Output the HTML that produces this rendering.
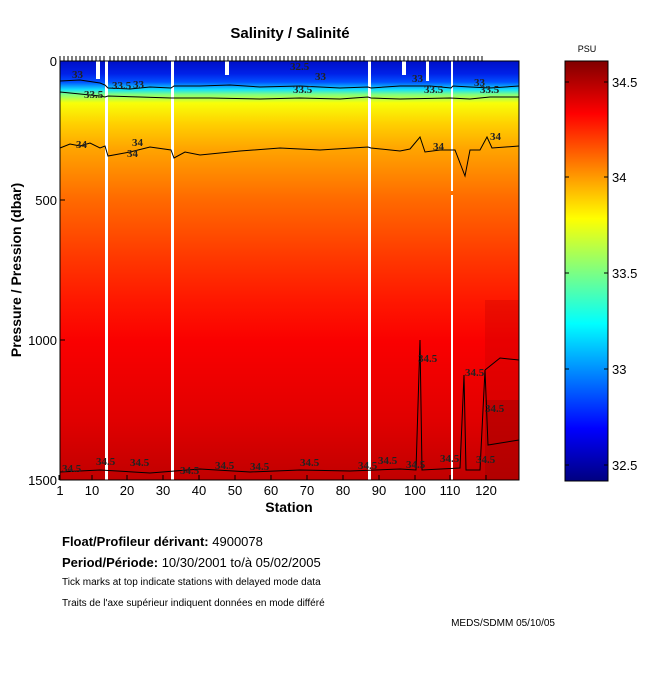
<!DOCTYPE html>
<html><head><meta charset="utf-8"><style>
body{margin:0;background:#fff;}
svg{display:block;font-family:"Liberation Sans",sans-serif;}
</style></head><body>
<svg width="650" height="680" viewBox="0 0 650 680">
<defs>
<linearGradient id="g" x1="0" y1="61" x2="0" y2="480" gradientUnits="userSpaceOnUse">
<stop offset="0" stop-color="#0010c8"/>
<stop offset="0.03" stop-color="#0020e8"/>
<stop offset="0.05" stop-color="#0050ff"/>
<stop offset="0.068" stop-color="#10e0ff"/>
<stop offset="0.08" stop-color="#80ff80"/>
<stop offset="0.10" stop-color="#f8ff08"/>
<stop offset="0.15" stop-color="#ffd000"/>
<stop offset="0.21" stop-color="#ffa400"/>
<stop offset="0.33" stop-color="#ff6a00"/>
<stop offset="0.47" stop-color="#ff3800"/>
<stop offset="0.57" stop-color="#ff1800"/>
<stop offset="0.67" stop-color="#fa0000"/>
<stop offset="0.86" stop-color="#e00000"/>
<stop offset="1" stop-color="#c00000"/>
</linearGradient>
<linearGradient id="cb" x1="0" y1="61" x2="0" y2="481" gradientUnits="userSpaceOnUse">
<stop offset="0" stop-color="#800000"/>
<stop offset="0.125" stop-color="#ff0000"/>
<stop offset="0.375" stop-color="#ffff00"/>
<stop offset="0.625" stop-color="#00ffff"/>
<stop offset="0.875" stop-color="#0000ff"/>
<stop offset="1" stop-color="#000080"/>
</linearGradient>
</defs>
<text x="290" y="38" font-size="15" font-weight="bold" text-anchor="middle">Salinity / Salinité</text>
<rect x="60" y="61" width="459" height="419" fill="url(#g)"/>
<rect x="485" y="400" width="34" height="80" fill="#a80000" opacity="0.6"/>
<rect x="485" y="300" width="34" height="100" fill="#c00000" opacity="0.3"/>
<!-- gaps -->
<rect x="105" y="61" width="3" height="419" fill="#fff"/>
<rect x="171" y="61" width="3" height="419" fill="#fff"/>
<rect x="368" y="61" width="3" height="419" fill="#fff"/>
<rect x="451" y="61" width="2" height="130" fill="#fff"/>
<rect x="451" y="195" width="2" height="285" fill="#fff"/>
<rect x="96" y="61" width="4" height="18" fill="#fff"/>
<rect x="225" y="61" width="4" height="14" fill="#fff"/>
<rect x="402" y="61" width="4" height="14" fill="#fff"/>
<rect x="426" y="61" width="3" height="20" fill="#fff"/>
<!-- contours -->
<g fill="none" stroke="#000" stroke-width="1">
<polyline points="60,81 80,80 100,83 105,85 108,88 130,89 150,87 171,88 174,86 200,86 230,85 260,87 300,86 340,88 368,87 371,88 400,86 430,86 451,88 453,86 470,87 490,88 519,86"/>
<polyline points="60,92 80,94 100,96 105,97 108,96 140,97 171,98 174,98 210,98 260,99 300,98 340,99 368,97 371,98 400,99 450,98 470,99 490,97 519,97"/>
<polyline points="60,148 70,144 80,146 90,143 100,148 105,146 108,156 130,152 150,147 171,150 174,158 185,152 200,155 240,151 280,148 320,150 368,147 371,148 400,151 410,149 420,137 425,152 440,150 455,150 465,176 470,150 480,150 487,137 492,148 519,146"/>
<polyline points="60,472 100,470 150,473 200,469 250,472 300,470 350,471 400,469 416,470 420,340 422,470 460,468 464,375 466,470 480,470 485,370 488,445 519,440"/>
<polyline points="485,370 500,358 519,360"/>
</g>
<g font-family="Liberation Serif,serif" font-weight="bold" font-size="11" fill="#222">
<text x="72" y="78">33</text><text x="84" y="98">33.5</text><text x="112" y="89">33.5</text><text x="133" y="88">33</text>
<text x="290" y="70">32.5</text><text x="293" y="93">33.5</text><text x="315" y="80">33</text>
<text x="412" y="82">33</text><text x="424" y="93">33.5</text><text x="474" y="86">33</text><text x="480" y="93">33.5</text>
<text x="76" y="148">34</text><text x="132" y="146">34</text><text x="127" y="157">34</text><text x="433" y="150">34</text><text x="490" y="140">34</text>
<text x="418" y="362">34.5</text><text x="465" y="376">34.5</text><text x="485" y="412">34.5</text>
<text x="62" y="472">34.5</text><text x="96" y="465">34.5</text><text x="130" y="466">34.5</text><text x="180" y="474">34.5</text><text x="215" y="469">34.5</text><text x="250" y="470">34.5</text><text x="300" y="466">34.5</text><text x="358" y="469">34.5</text><text x="378" y="464">34.5</text><text x="406" y="468">34.5</text><text x="440" y="462">34.5</text><text x="476" y="463">34.5</text>
</g>
<!-- axes -->
<rect x="60" y="61" width="459" height="419" fill="none" stroke="#000"/>
<g stroke="#000">
<path d="M60,56 V61 M64,56 V61 M68,56 V61 M72,56 V61 M76,56 V61 M80,56 V61 M84,56 V61 M88,56 V61 M92,56 V61 M96,56 V61 M100,56 V61 M104,56 V61 M110,56 V61 M114,56 V61 M118,56 V61 M122,56 V61 M126,56 V61 M130,56 V61 M134,56 V61 M138,56 V61 M142,56 V61 M146,56 V61 M150,56 V61 M154,56 V61 M158,56 V61 M162,56 V61 M166,56 V61 M176,56 V61 M180,56 V61 M184,56 V61 M188,56 V61 M192,56 V61 M196,56 V61 M200,56 V61 M204,56 V61 M208,56 V61 M212,56 V61 M216,56 V61 M220,56 V61 M224,56 V61 M228,56 V61 M232,56 V61 M236,56 V61 M240,56 V61 M244,56 V61 M248,56 V61 M252,56 V61 M256,56 V61 M260,56 V61 M264,56 V61 M268,56 V61 M272,56 V61 M276,56 V61 M280,56 V61 M284,56 V61 M288,56 V61 M292,56 V61 M296,56 V61 M300,56 V61 M304,56 V61 M308,56 V61 M312,56 V61 M316,56 V61 M320,56 V61 M324,56 V61 M328,56 V61 M332,56 V61 M336,56 V61 M340,56 V61 M344,56 V61 M348,56 V61 M352,56 V61 M356,56 V61 M360,56 V61 M364,56 V61 M372,56 V61 M376,56 V61 M380,56 V61 M384,56 V61 M388,56 V61 M392,56 V61 M396,56 V61 M400,56 V61 M404,56 V61 M408,56 V61 M412,56 V61 M416,56 V61 M420,56 V61 M424,56 V61 M428,56 V61 M432,56 V61 M436,56 V61 M440,56 V61 M444,56 V61 M448,56 V61 M454,56 V61 M458,56 V61 M462,56 V61 M466,56 V61 M470,56 V61 M474,56 V61 M478,56 V61 M482,56 V61"/>
<path d="M59,480 V475 M92,480 V475 M127,480 V475 M163,480 V475 M199,480 V475 M235,480 V475 M271,480 V475 M307,480 V475 M343,480 V475 M379,480 V475 M415,480 V475 M450,480 V475 M486,480 V475"/>
<path d="M60,61 H65 M60,200 H65 M60,340 H65 M60,480 H65"/>
</g>
<g font-size="13" text-anchor="middle">
<text x="60" y="495">1</text><text x="92" y="495">10</text><text x="127" y="495">20</text><text x="163" y="495">30</text><text x="199" y="495">40</text><text x="235" y="495">50</text><text x="271" y="495">60</text><text x="307" y="495">70</text><text x="343" y="495">80</text><text x="379" y="495">90</text><text x="415" y="495">100</text><text x="450" y="495">110</text><text x="486" y="495">120</text>
</g>
<g font-size="13" text-anchor="end">
<text x="57" y="66">0</text><text x="57" y="205">500</text><text x="57" y="345">1000</text><text x="57" y="485">1500</text>
</g>
<text x="289" y="512" font-size="14" font-weight="bold" text-anchor="middle">Station</text>
<text transform="translate(21,270) rotate(-90)" font-size="14" font-weight="bold" text-anchor="middle">Pressure / Pression (dbar)</text>
<!-- colorbar -->
<text x="587" y="52" font-size="9" text-anchor="middle">PSU</text>
<rect x="565" y="61" width="43" height="420" fill="url(#cb)" stroke="#000"/>
<g stroke="#000"><path d="M565,82 h4 M604,82 h4 M565,177 h4 M604,177 h4 M565,273 h4 M604,273 h4 M565,369 h4 M604,369 h4 M565,465 h4 M604,465 h4"/></g>
<g font-size="13"><text x="612" y="87">34.5</text><text x="612" y="182">34</text><text x="612" y="278">33.5</text><text x="612" y="374">33</text><text x="612" y="470">32.5</text></g>
<!-- footer -->
<text x="62" y="546" font-size="13"><tspan font-weight="bold">Float/Profileur dérivant:</tspan>  4900078</text>
<text x="62" y="567" font-size="13"><tspan font-weight="bold">Period/Période:</tspan> 10/30/2001  to/à  05/02/2005</text>
<text x="62" y="585" font-size="10">Tick marks at top indicate stations with delayed mode data</text>
<text x="62" y="606" font-size="10">Traits de l'axe supérieur indiquent données en mode différé</text>
<text x="555" y="626" font-size="10" text-anchor="end">MEDS/SDMM  05/10/05</text>
</svg>
</body></html>
